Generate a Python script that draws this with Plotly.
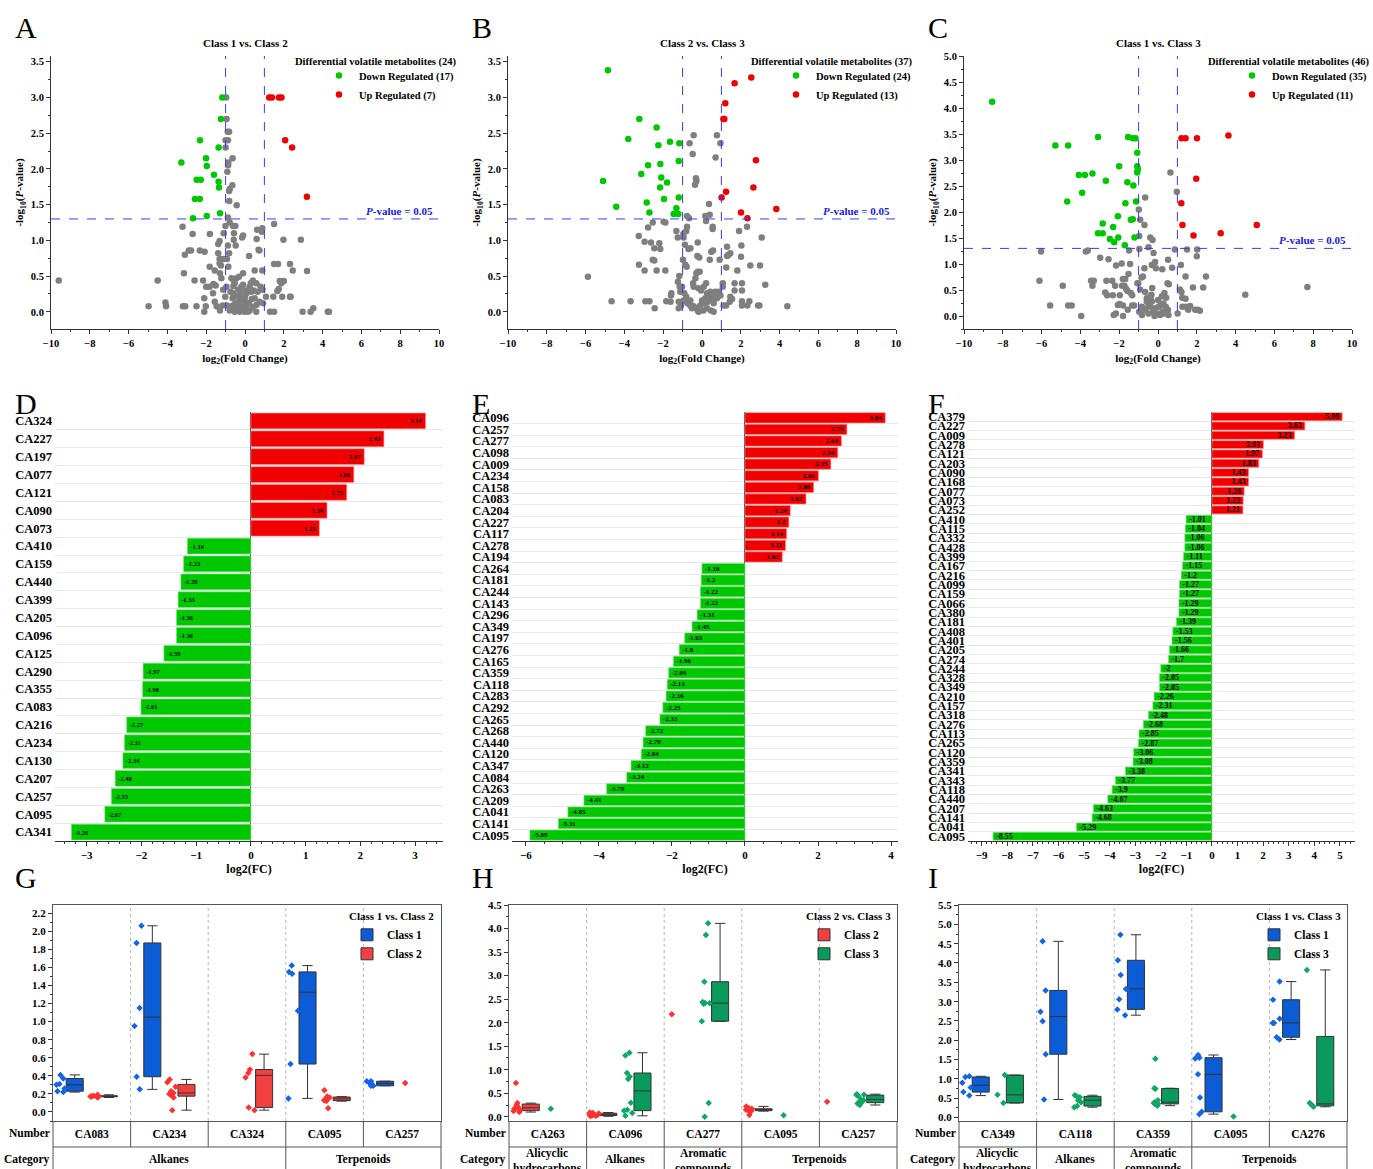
import plotly.graph_objects as go

W, H = 1373, 1169
FONT = "Liberation Serif, Times New Roman, serif"


def px(x):
    return x / W


def py(y):
    return 1 - y / H


# ------------------------------------------------------------------ volcano data
A_title = "Class 1 vs. Class 2"
A_counts = (24, 17, 7)
A_down = [(-1.17, 3.00), (-1.24, 2.70), (-2.32, 2.40), (-1.36, 2.30), (-3.28, 2.09), (-2.01, 2.15),
          (-1.97, 2.04), (-1.60, 1.92), (-2.49, 1.85), (-2.28, 1.85), (-1.36, 1.82), (-1.34, 1.74),
          (-2.58, 1.58), (-2.33, 1.58), (-1.29, 1.38), (-1.97, 1.34), (-2.68, 1.31)]
A_up = [(1.25, 3.00), (1.39, 3.00), (1.75, 3.00), (1.88, 3.00), (2.07, 2.40), (2.43, 2.30), (3.19, 1.61)]
A_ns = [(-0.97, 3.00), (-0.95, 2.70), (-0.89, 2.52), (-0.82, 2.52), (-1.00, 2.40), (-0.88, 2.40), (-1.00, 2.30),
        (-0.86, 2.09), (-0.64, 2.15), (-0.87, 2.05), (-0.91, 1.96), (-0.65, 1.77), (-0.79, 1.72), (-0.82, 1.69),
        (-0.81, 1.55), (-0.43, 1.49), (-0.88, 1.32), (-0.79, 1.25), (-0.62, 1.20), (-0.50, 1.20), (-1.01, 1.20),
        (-0.57, 1.10), (-1.10, 1.10), (-0.58, 1.01), (-0.48, 0.93), (-0.88, 0.93), (-0.82, 0.82), (-1.31, 0.99),
        (-1.38, 0.95), (-1.38, 0.82), (-1.31, 0.74), (-1.24, 0.74), (-1.13, 0.74), (-0.93, 0.74), (-0.86, 0.63),
        (-1.31, 0.68), (-1.24, 0.65), (-1.81, 1.09), (-2.08, 0.84), (-2.33, 0.86), (-2.90, 0.86), (-2.78, 0.86),
        (-3.10, 0.80), (-3.22, 1.19), (-2.70, 1.09), (-3.15, 0.54), (-1.82, 0.63), (-1.56, 0.58), (-1.29, 0.54),
        (-1.22, 0.47), (-0.70, 0.47), (-0.57, 0.44), (-0.45, 0.47), (-0.31, 0.49), (-0.10, 0.54), (0.21, 0.78),
        (-0.10, 1.07), (-0.15, 1.04), (0.60, 1.02), (0.62, 1.15), (0.89, 1.17), (0.86, 1.12), (1.50, 1.23),
        (0.70, 0.87), (0.74, 0.86), (1.98, 1.01), (2.88, 1.01), (1.50, 0.67), (1.70, 0.67), (2.32, 0.67),
        (2.46, 0.58), (3.20, 0.57), (1.79, 0.43), (1.87, 0.40), (1.74, 0.32), (1.67, 0.29), (1.46, 0.21),
        (1.92, 0.21), (2.32, 0.21), (1.08, 0.21), (0.89, 0.58), (0.50, 0.58), (0.41, 0.44), (0.58, 0.40),
        (0.24, 0.35), (-0.19, 0.35), (-0.53, 0.40), (-0.36, 0.31), (-0.96, 0.35), (-1.13, 0.31), (-1.02, 0.21),
        (-0.62, 0.26), (-0.64, 0.19), (-0.27, 0.21), (0.07, 0.26), (0.33, 0.28), (0.50, 0.19), (0.75, 0.14),
        (0.93, 0.12), (0.15, 0.12), (-0.02, 0.14), (-0.19, 0.07), (-0.41, 0.09), (-0.62, 0.09), (-0.70, 0.07),
        (-0.79, 0.02), (-0.53, 0.00), (-0.27, 0.00), (-0.02, 0.00), (0.24, 0.02), (0.41, 0.07), (0.58, 0.00),
        (-1.51, 0.37), (-1.63, 0.39), (-1.82, 0.35), (-2.16, 0.44), (-2.00, 0.35), (-2.60, 0.44), (-4.50, 0.44),
        (-9.60, 0.44), (-4.97, 0.08), (-4.10, 0.13), (-4.07, 0.08), (-3.20, 0.08), (-3.08, 0.08), (-2.50, 0.08),
        (-2.10, 0.00), (-2.02, 0.08), (-2.10, 0.19), (-1.65, 0.26), (-1.56, 0.14), (-1.46, 0.08), (-1.29, 0.02),
        (-0.93, 0.09), (-1.15, 0.09), (1.29, 0.00), (1.50, 0.00), (2.97, 0.00), (3.38, 0.00), (3.52, 0.05),
        (4.27, 0.00), (4.33, 0.00), (2.35, 0.21), (2.00, 0.43), (-0.30, 0.15), (-0.15, 0.20), (0.00, 0.05),
        (0.10, 0.10), (0.20, 0.12), (0.35, 0.18), (-0.45, 0.22), (0.05, 0.30), (-0.10, 0.38), (0.30, 0.40),
        (0.00, 0.20), (-0.50, 0.12), (0.15, 0.00), (-0.40, 0.03), (0.45, 0.30), (0.65, 0.28), (0.80, 0.35),
        (0.90, 0.31), (-0.25, 0.28), (0.60, 0.10), (-0.60, 0.36), (-0.75, 0.28)]

B_title = "Class 2 vs. Class 3"
B_counts = (37, 24, 13)
B_down = [(-4.85, 3.38), (-3.23, 2.70), (-2.34, 2.58), (-3.80, 2.42), (-2.25, 2.33), (-1.65, 2.38), (-1.17, 2.36),
          (-1.20, 2.11), (-2.78, 2.05), (-2.15, 2.07), (-3.13, 1.93), (-2.10, 1.88), (-1.80, 1.81), (-5.10, 1.83),
          (-2.16, 1.74), (-1.96, 1.58), (-1.20, 1.60), (-2.85, 1.53), (-4.42, 1.47), (-1.32, 1.45), (-2.71, 1.39),
          (-1.46, 1.37), (-1.22, 1.37)]
B_up = [(1.68, 3.20), (2.54, 3.28), (1.20, 2.92), (1.10, 2.70), (1.15, 2.70), (2.78, 2.12), (2.65, 1.74),
        (1.24, 1.68), (1.01, 1.60), (2.01, 1.39), (2.34, 1.31), (3.83, 1.44)]
B_ns = [(-0.43, 2.47), (0.77, 2.47), (-0.64, 2.36), (0.95, 2.36), (-0.48, 2.21), (0.70, 2.16), (-0.31, 1.87),
        (-0.29, 1.83), (-0.36, 1.78), (0.36, 1.51), (0.40, 1.36), (0.17, 1.34), (-0.77, 1.34), (-0.67, 1.31),
        (0.21, 1.27), (0.55, 1.19), (0.55, 1.16), (-0.77, 1.19), (-0.81, 1.13), (-1.32, 1.13), (-1.25, 1.04),
        (-0.96, 1.09), (-0.95, 1.04), (-1.98, 1.26), (-1.89, 1.25), (-2.54, 1.25), (-2.78, 1.18), (-3.26, 1.06),
        (-2.96, 0.98), (-2.63, 0.97), (-2.20, 0.96), (-2.15, 0.88), (-2.46, 0.89), (-2.54, 0.73), (-2.46, 0.72),
        (-3.25, 0.66), (-2.96, 0.58), (-2.34, 0.58), (-1.89, 0.58), (-0.88, 0.94), (-0.70, 0.88), (-0.60, 0.89),
        (-0.24, 0.78), (-0.14, 0.76), (-0.22, 0.97), (-0.98, 0.73), (-0.86, 0.66), (-0.79, 0.63), (0.48, 0.84),
        (0.57, 0.86), (0.40, 0.73), (0.91, 0.73), (1.29, 0.91), (1.37, 0.80), (1.46, 0.82), (1.29, 0.78),
        (2.01, 0.77), (2.03, 0.93), (1.91, 1.13), (2.32, 1.19), (3.08, 1.04), (2.49, 0.65), (2.99, 0.65),
        (1.25, 0.62), (1.82, 0.58), (3.26, 0.38), (4.40, 0.08), (2.89, 0.09), (2.96, 0.09), (2.44, 0.15),
        (2.34, 0.09), (2.06, 0.15), (2.06, 0.09), (2.06, 0.40), (1.68, 0.40), (1.68, 0.30), (2.06, 0.30),
        (1.46, 0.21), (1.55, 0.18), (1.43, 0.14), (1.24, 0.09), (1.07, 0.40), (1.07, 0.35), (1.12, 0.09),
        (-5.88, 0.49), (-4.66, 0.15), (-3.68, 0.15), (-2.92, 0.15), (-2.71, 0.15), (-2.44, 0.05), (-1.84, 0.15),
        (-1.62, 0.14), (-1.60, 0.23), (-1.58, 0.26), (-1.20, 0.14), (-1.20, 0.05), (-1.17, 0.50), (-1.24, 0.42),
        (-1.15, 0.35), (-1.03, 0.35), (-1.12, 0.28), (-0.91, 0.26), (-0.81, 0.21), (-0.77, 0.14), (-0.60, 0.09),
        (-0.52, 0.05), (-0.43, 0.08), (-0.29, 0.05), (-0.17, 0.00), (-0.09, 0.09), (-0.46, 0.40), (-0.29, 0.54),
        (-0.22, 0.56), (-0.12, 0.56), (-0.34, 0.47), (-0.43, 0.35), (-0.19, 0.33), (-0.05, 0.30), (0.09, 0.35),
        (0.21, 0.40), (0.26, 0.26), (0.34, 0.21), (0.43, 0.28), (0.17, 0.19), (0.00, 0.16), (0.09, 0.12),
        (0.29, 0.14), (0.52, 0.17), (0.60, 0.12), (0.69, 0.28), (0.86, 0.28), (0.46, 0.02), (0.60, 0.00),
        (0.26, 0.05), (0.07, 0.02), (-0.22, 0.02), (-0.60, 0.16), (-0.74, 0.12), (-0.95, 0.16), (-1.08, 0.09),
        (0.60, 0.23), (0.77, 0.19), (0.95, 0.23)]

C_title = "Class 1 vs. Class 3"
C_counts = (46, 35, 11)
C_down = [(-8.55, 4.12), (-5.29, 3.28), (-4.63, 3.28), (-3.09, 3.44), (-1.54, 3.44), (-1.30, 3.42), (-1.16, 3.42),
          (-1.07, 3.14), (-2.00, 2.88), (-1.07, 2.88), (-1.04, 2.82), (-1.07, 2.76), (-4.08, 2.71), (-3.77, 2.71),
          (-3.38, 2.74), (-2.69, 2.60), (-1.58, 2.57), (-1.27, 2.51), (-3.91, 2.37), (-4.68, 2.20), (-1.68, 2.17),
          (-1.13, 2.20), (-2.07, 1.92), (-1.40, 1.85), (-1.30, 1.86), (-2.85, 1.78), (-2.31, 1.71), (-3.09, 1.59),
          (-2.85, 1.59), (-2.05, 1.51), (-2.48, 1.48), (-2.26, 1.42), (-1.21, 1.51), (-1.71, 1.36)]
C_up = [(1.21, 3.42), (1.42, 3.42), (2.01, 3.42), (3.63, 3.47), (1.97, 2.64), (1.20, 2.17), (1.26, 1.75),
        (5.09, 1.75), (1.83, 1.55), (3.23, 1.59)]
C_ns = [(0.64, 2.76), (0.97, 2.39), (-0.66, 2.28), (-0.99, 2.05), (-0.92, 1.85), (-0.70, 1.75), (-0.97, 1.54),
        (-0.40, 1.51), (-0.28, 1.46), (-0.49, 1.32), (-0.96, 1.29), (-1.49, 1.26), (-0.23, 1.21), (0.87, 1.28),
        (1.50, 1.28), (2.02, 1.28), (2.00, 1.15), (0.52, 1.08), (1.18, 0.98), (-0.15, 1.04), (-0.32, 0.98),
        (-0.70, 0.92), (-0.11, 0.92), (0.22, 0.90), (0.73, 0.93), (-0.78, 0.76), (-0.85, 0.74), (-1.02, 0.63),
        (0.49, 0.63), (0.56, 0.61), (1.42, 0.76), (2.47, 0.76), (1.80, 0.55), (2.33, 0.55), (1.13, 0.51),
        (1.21, 0.46), (1.25, 0.35), (1.42, 0.33), (1.26, 0.18), (1.44, 0.18), (1.66, 0.19), (1.56, 0.12),
        (1.92, 0.12), (2.05, 0.12), (2.16, 0.10), (1.01, 0.05), (4.50, 0.41), (7.70, 0.56), (-6.03, 1.24),
        (-6.11, 0.68), (-4.91, 0.58), (-5.56, 0.20), (-4.63, 0.20), (-4.45, 0.20), (-3.96, 0.00), (-3.72, 1.24),
        (-3.62, 1.26), (-3.45, 0.68), (-3.31, 0.68), (-3.38, 0.58), (-2.98, 1.12), (-2.55, 1.09), (-2.16, 0.97),
        (-1.87, 1.01), (-1.44, 1.00), (-2.66, 0.68), (-2.36, 0.68), (-2.21, 0.58), (-2.72, 0.45), (-2.62, 0.40),
        (-2.33, 0.40), (-1.97, 0.40), (-2.07, 0.21), (-1.97, 0.23), (-1.80, 0.20), (-2.28, 0.02), (-2.17, 0.05),
        (-1.80, 0.00), (-1.56, 0.12), (-1.33, 0.20), (-1.23, 0.20), (-1.81, 0.71), (-1.69, 0.71), (-1.52, 0.81),
        (-1.85, 0.58), (-1.73, 0.58), (-1.64, 0.52), (-1.57, 0.48), (-1.40, 0.44), (-1.33, 0.40), (-1.06, 0.63),
        (-0.92, 0.51), (-0.66, 0.46), (-0.58, 0.34), (-0.37, 0.37), (-0.30, 0.54), (-0.34, 0.41), (0.00, 0.31),
        (0.20, 0.38), (0.33, 0.44), (0.42, 0.35), (0.13, 0.20), (0.28, 0.24), (0.40, 0.18), (0.51, 0.12),
        (0.23, 0.08), (-0.06, 0.05), (-0.18, 0.00), (-0.49, 0.21), (-0.40, 0.18), (-0.66, 0.12), (-0.83, 0.18),
        (-0.97, 0.08), (-0.83, 0.02), (-0.58, 0.28), (-0.32, 0.28), (-0.15, 0.15), (0.03, 0.18), (-0.23, 0.08),
        (0.11, 0.02), (0.34, 0.05), (0.54, 0.02), (-0.49, 0.05)]

# ------------------------------------------------------------------ bar data (log2 FC)
D_ids = ["CA324", "CA227", "CA197", "CA077", "CA121", "CA090", "CA073", "CA410", "CA159", "CA440", "CA399",
         "CA205", "CA096", "CA125", "CA290", "CA355", "CA083", "CA216", "CA234", "CA130", "CA207", "CA257",
         "CA095", "CA341"]
D_fc = [3.19, 2.43, 2.07, 1.88, 1.75, 1.39, 1.25, -1.16, -1.23, -1.28, -1.33, -1.36, -1.36, -1.59, -1.97,
        -1.98, -2.01, -2.27, -2.31, -2.34, -2.48, -2.55, -2.67, -3.28]

E_ids = ["CA096", "CA257", "CA277", "CA098", "CA009", "CA234", "CA158", "CA083", "CA204", "CA227", "CA117",
         "CA278", "CA194", "CA264", "CA181", "CA244", "CA143", "CA296", "CA349", "CA197", "CA276", "CA165",
         "CA359", "CA118", "CA283", "CA292", "CA265", "CA268", "CA440", "CA120", "CA347", "CA084", "CA263",
         "CA209", "CA041", "CA141", "CA095"]
E_fc = [3.84, 2.79, 2.64, 2.54, 2.35, 2.01, 1.88, 1.67, 1.24, 1.2, 1.14, 1.11, 1.02, -1.18, -1.2, -1.22, -1.22,
        -1.31, -1.45, -1.65, -1.8, -1.96, -2.09, -2.13, -2.16, -2.25, -2.33, -2.72, -2.79, -2.84, -3.12, -3.24,
        -3.79, -4.41, -4.85, -5.11, -5.89]

F_ids = ["CA379", "CA227", "CA009", "CA278", "CA121", "CA203", "CA090", "CA168", "CA077", "CA073", "CA252",
         "CA410", "CA115", "CA332", "CA428", "CA399", "CA167", "CA216", "CA099", "CA159", "CA066", "CA380",
         "CA181", "CA408", "CA401", "CA205", "CA274", "CA244", "CA328", "CA349", "CA210", "CA157", "CA318",
         "CA276", "CA113", "CA265", "CA120", "CA359", "CA341", "CA343", "CA118", "CA440", "CA207", "CA141",
         "CA041", "CA095"]
F_fc = [5.09, 3.63, 3.23, 2.01, 1.97, 1.83, 1.43, 1.43, 1.26, 1.22, 1.21, -1.01, -1.04, -1.06, -1.06, -1.11,
        -1.15, -1.2, -1.27, -1.27, -1.29, -1.29, -1.39, -1.53, -1.56, -1.66, -1.7, -2, -2.05, -2.05, -2.26,
        -2.31, -2.48, -2.68, -2.85, -2.87, -3.06, -3.08, -3.38, -3.77, -3.9, -4.07, -4.63, -4.68, -5.29, -8.55]

# ------------------------------------------------------------------ box data
G_title = "Class 1 vs. Class 2"
G_numbers = ["CA083", "CA234", "CA324", "CA095", "CA257"]
G_categories = [("Alkanes", 3), ("Terpenoids", 2)]
G_names = ("Class 1", "Class 2")
G_a = [[0.41, 0.37, 0.31, 0.30, 0.26, 0.23, 0.22],
       [2.06, 1.87, 1.15, 0.95, 0.39, 0.25],
       [],
       [1.62, 1.55, 1.53, 1.12, 0.53, 0.15],
       [0.34, 0.34, 0.32, 0.31, 0.29, 0.29]]
G_b = [[0.19, 0.18, 0.17, 0.17, 0.17, 0.16],
       [0.36, 0.33, 0.28, 0.23, 0.21, 0.20, 0.19, 0.16, 0.02],
       [0.64, 0.47, 0.43, 0.38, 0.05, 0.02],
       [0.24, 0.17, 0.16, 0.15, 0.14, 0.13, 0.12, 0.04],
       [0.32]]

H_title = "Class 2 vs. Class 3"
H_numbers = ["CA263", "CA096", "CA277", "CA095", "CA257"]
H_categories = [("Alicyclic<br>hydrocarbons", 1), ("Alkanes", 1), ("Aromatic<br>compounds", 1), ("Terpenoids", 2)]
H_names = ("Class 2", "Class 3")
H_a = [[0.72, 0.29, 0.25, 0.21, 0.19, 0.17, 0.14, 0.12, 0.10],
       [0.09, 0.08, 0.07, 0.06, 0.05, 0.04, 0.03, 0.02, 0.01],
       [2.18],
       [0.22, 0.18, 0.17, 0.16, 0.15, 0.15, 0.14, 0.13, 0.12, 0.04],
       [0.32]]
H_b = [[0.17],
       [1.36, 1.30, 0.93, 0.85, 0.80, 0.30, 0.15, 0.13, 0.08, 0.02],
       [4.11, 3.86, 2.87, 2.44, 2.42, 2.41, 2.40, 2.03, 0.29, 0.00],
       [0.03],
       [0.48, 0.47, 0.46, 0.45, 0.38, 0.35, 0.32, 0.30, 0.28, 0.25]]

I_title = "Class 1 vs. Class 3"
I_numbers = ["CA349", "CA118", "CA359", "CA095", "CA276"]
I_categories = [("Alicyclic<br>hydrocarbons", 1), ("Alkanes", 1), ("Aromatic<br>compounds", 1), ("Terpenoids", 2)]
I_names = ("Class 1", "Class 3")
I_a = [[1.07, 1.05, 0.90, 0.78, 0.66, 0.57],
       [4.56, 3.29, 2.74, 2.49, 1.64, 0.47],
       [4.73, 4.07, 3.69, 3.33, 3.06, 2.80, 2.65],
       [1.62, 1.55, 1.53, 1.12, 0.52, 0.15, 0.09],
       [3.52, 3.05, 2.56, 2.45, 2.45, 2.08, 2.02]]
I_b = [[1.10, 0.59, 0.38],
       [0.58, 0.55, 0.53, 0.45, 0.40, 0.30, 0.27],
       [1.52, 0.76, 0.75, 0.45, 0.40, 0.38, 0.36, 0.35, 0.31],
       [0.03],
       [3.82, 0.38, 0.33, 0.28]]

# ------------------------------------------------------------------ styles
C_GRAY, C_GREEN, C_RED = "#7f7f7f", "#00c800", "#f00000"
C_BLUE_BOX, C_RED_BOX, C_GREEN_BOX = "#0b5cd5", "#f04040", "#0a9a5c"
C_BLUE_PT, C_RED_PT, C_GREEN_PT = "#1464e6", "#ff3030", "#0fa863"
C_DASH = "#3a3aff"
AX = "#333333"

fig = go.Figure()
layout = {}
shapes, annots = [], []


def names(i):
    return ("x" if i == 1 else f"x{i}", "y" if i == 1 else f"y{i}",
            "xaxis" if i == 1 else f"xaxis{i}", "yaxis" if i == 1 else f"yaxis{i}")


def letter(t, x, y):
    annots.append(dict(text=t, x=px(x), y=py(y), xref="paper", yref="paper", xanchor="left",
                       yanchor="middle", showarrow=False,
                       font=dict(size=30, family=FONT, weight="normal", color="black")))


# ------------------------------------------------------------------ volcano panels
def volcano(i, title, counts, down, up, ns, yr, ydt, xdom, leg, leg_text_x, leg_right):
    xa, ya, xk, yk = names(i)
    fig.add_trace(go.Scatter(x=[p[0] for p in ns], y=[p[1] for p in ns], mode="markers",
                             marker=dict(color=C_GRAY, size=6.5), showlegend=False,
                             xaxis=xa, yaxis=ya, hoverinfo="skip"))
    fig.add_trace(go.Scatter(x=[p[0] for p in down], y=[p[1] for p in down], mode="markers",
                             marker=dict(color=C_GREEN, size=6.5), name=f"Down Regulated ({counts[1]})",
                             xaxis=xa, yaxis=ya, legend=leg))
    fig.add_trace(go.Scatter(x=[p[0] for p in up], y=[p[1] for p in up], mode="markers",
                             marker=dict(color=C_RED, size=6.5), name=f"Up Regulated ({counts[2]})",
                             xaxis=xa, yaxis=ya, legend=leg))
    layout[xk] = dict(domain=[px(xdom[0]), px(xdom[1])], anchor=ya, range=[-10, 10], dtick=2, tick0=0,
                      ticks="outside", ticklen=4, tickcolor=AX, showline=True, linecolor=AX, linewidth=1,
                      showgrid=False, zeroline=False, tickfont=dict(size=10.5), automargin=False,
                      minor=dict(ticks="outside", ticklen=2, dtick=1, tickcolor=AX),
                      title=dict(text="log<sub>2</sub>(Fold Change)", font=dict(size=11), standoff=6))
    layout[yk] = dict(domain=[py(329), py(56)], anchor=xa, range=yr, dtick=ydt, tick0=0, tickformat=".1f",
                      ticks="outside", ticklen=4, tickcolor=AX, showline=True, linecolor=AX, linewidth=1,
                      showgrid=False, zeroline=False, tickfont=dict(size=10.5), automargin=False,
                      minor=dict(ticks="outside", ticklen=2, dtick=ydt / 2, tickcolor=AX),
                      title=dict(text="-log<sub>10</sub>(<i>P</i>-value)", font=dict(size=11), standoff=4))
    dl = dict(color=C_DASH, width=1, dash="dash")
    for xv in (-1, 1):
        shapes.append(dict(type="line", xref=xa, yref=f"{ya} domain", x0=xv, x1=xv, y0=0, y1=1, line=dl))
    shapes.append(dict(type="line", xref=f"{xa} domain", yref=ya, x0=0, x1=1, y0=1.3, y1=1.3, line=dl))
    annots.append(dict(text="<i>P</i>-value = 0.05", xref=f"{xa} domain", yref=ya, x=0.99, y=1.3,
                       xanchor="right", yanchor="bottom", yshift=0, showarrow=False,
                       font=dict(size=11, color="#1a1adc")))
    annots.append(dict(text=title, xref="paper", yref="paper", x=px((xdom[0] + xdom[1]) / 2), y=py(43),
                       xanchor="center", yanchor="middle", showarrow=False, font=dict(size=11)))
    annots.append(dict(text=f"Differential volatile metabolites ({counts[0]})", xref="paper", yref="paper",
                       x=px(leg_right), y=py(62), xanchor="right", yanchor="middle", showarrow=False,
                       font=dict(size=10.5)))
    layout[leg] = dict(x=px(leg_text_x - 40), y=py(61), xanchor="left", yanchor="top",
                       bgcolor="rgba(0,0,0,0)", font=dict(size=10.5), tracegroupgap=0, itemwidth=30)


volcano(1, A_title, A_counts, A_down, A_up, A_ns, [-0.24, 3.58], 0.5, (51, 439), "legend", 359, 459)
volcano(2, B_title, B_counts, B_down, B_up, B_ns, [-0.24, 3.58], 0.5, (508, 896), "legend2", 816, 915)
volcano(3, C_title, C_counts, C_down, C_up, C_ns, [-0.25, 5.0], 0.5, (964, 1352), "legend3", 1272, 1372)


# ------------------------------------------------------------------ bar panels
def barpanel(i, ids, fc, xr, dt, mdt, xdom, labsize, txtsize, width):
    xa, ya, xk, yk = names(i)
    fig.add_trace(go.Bar(orientation="h", y=ids, x=fc, width=width,
                         marker=dict(color=[C_RED if v > 0 else C_GREEN for v in fc],
                                     line=dict(width=0.6, color=["#ff8a8a" if v > 0 else "#7fe07f" for v in fc])),
                         text=[f"{v:g}" for v in fc], textposition="inside", insidetextanchor="end",
                         textangle=0, constraintext="none",
                         textfont=dict(size=txtsize, color="black", family=FONT, weight="bold"),
                         showlegend=False, xaxis=xa, yaxis=ya, hoverinfo="skip"))
    layout[xk] = dict(domain=[px(xdom[0]), px(xdom[1])], anchor=ya, range=xr, dtick=dt, tick0=0,
                      ticks="outside", ticklen=4, tickcolor=AX, showline=True, linecolor=AX, linewidth=1,
                      showgrid=False, zeroline=True, zerolinecolor="#555555", zerolinewidth=1,
                      tickfont=dict(size=11), automargin=False,
                      minor=dict(ticks="outside", ticklen=2, dtick=mdt, tickcolor=AX),
                      title=dict(text="log2(FC)", font=dict(size=12), standoff=4))
    layout[yk] = dict(domain=[py(841), py(412)], anchor=xa, type="category", categoryorder="array",
                      categoryarray=ids, range=[len(ids) - 0.5, -0.5], tickson="boundaries",
                      tickmode="array", tickvals=ids, ticktext=ids,
                      showgrid=True, gridcolor="#e9e9e9", gridwidth=1, ticks="", showline=False,
                      zeroline=False, tickfont=dict(size=labsize), ticklabelstandoff=2, automargin=False)


barpanel(4, D_ids, D_fc, [-3.58, 3.51], 1, 0.2, (55, 443), 12.5, 6.5, 0.88)
barpanel(5, E_ids, E_fc, [-6.38, 4.19], 2, 0.5, (512, 898), 12.5, 7, 0.88)
barpanel(6, F_ids, F_fc, [-9.53, 5.59], 1, 0.2, (968, 1355), 12.5, 8, 0.85)


# ------------------------------------------------------------------ box panels
def boxpanel(i, title, numbers, cats, nm, a_vals, b_vals, cols, yr, dt, mdt, xdom, leg, leg_right):
    xa, ya, xk, yk = names(i)
    for gi, (name, vals, (fillc, ptc)) in enumerate(zip(nm, (a_vals, b_vals), cols)):
        xs = [n for n, v in zip(numbers, vals) for _ in v]
        ys = [y for v in vals for y in v]
        fig.add_trace(go.Box(x=xs, y=ys, name=name, boxpoints="all", jitter=0.6, pointpos=-1.65,
                             quartilemethod="exclusive", fillcolor=fillc, whiskerwidth=0.6,
                             line=dict(color=AX, width=1),
                             marker=dict(color=ptc, size=5, symbol="diamond"),
                             alignmentgroup=f"panel{i}", offsetgroup=f"g{gi}",
                             xaxis=xa, yaxis=ya, legend=leg, hoverinfo="skip"))
    n = len(numbers)
    layout[xk] = dict(domain=[px(xdom[0]), px(xdom[1])], anchor=ya, type="category", categoryorder="array",
                      categoryarray=numbers, range=[-0.5, n - 0.5], ticks="", showline=True, mirror=True,
                      linecolor="#555555", linewidth=1, showgrid=False, zeroline=False, automargin=False,
                      tickfont=dict(size=11.5), ticklabelstandoff=2)
    layout[yk] = dict(domain=[py(1121), py(905)], anchor=xa, range=yr, dtick=dt, tick0=0, tickformat=".1f",
                      ticks="outside", ticklen=4, tickcolor=AX, showline=True, mirror=True,
                      linecolor="#555555", linewidth=1, showgrid=False, zeroline=False, automargin=False,
                      tickfont=dict(size=11),
                      minor=dict(ticks="outside", ticklen=2, dtick=mdt, tickcolor=AX))
    layout[leg] = dict(x=px(leg_right), y=py(906), xanchor="right", yanchor="top", bgcolor="rgba(0,0,0,0)",
                       font=dict(size=11.5), tracegroupgap=0,
                       title=dict(text=title, font=dict(size=11), side="top"))
    tl = dict(color="#555555", width=1)
    for k in range(1, n):
        shapes.append(dict(type="line", xref=xa, yref=f"{ya} domain", x0=k - 0.5, x1=k - 0.5, y0=0, y1=1,
                           line=dict(color="#b5b5b5", width=1, dash="dot")))
        shapes.append(dict(type="line", xref=xa, yref="paper", x0=k - 0.5, x1=k - 0.5,
                           y0=py(1121), y1=py(1147), line=tl))
    shapes.append(dict(type="line", xref=f"{xa} domain", yref="paper", x0=0, x1=1, y0=py(1147), y1=py(1147),
                       line=tl))
    for xv in (0, 1):
        shapes.append(dict(type="line", xref=f"{xa} domain", yref="paper", x0=xv, x1=xv, y0=py(1121), y1=0,
                           line=tl))
    start = 0
    for j, (label, span) in enumerate(cats):
        end = start + span - 1
        if j > 0:
            shapes.append(dict(type="line", xref=xa, yref="paper", x0=start - 0.5, x1=start - 0.5,
                               y0=py(1147), y1=0, line=tl))
        multi = "<br>" in label
        annots.append(dict(text=label, xref=xa, yref="paper", x=(start + end) / 2,
                           y=py(1145) if multi else py(1151), xanchor="center", yanchor="top",
                           showarrow=False, font=dict(size=11.5)))
        start = end + 1
    annots.append(dict(text="Number", xref="paper", yref="paper", x=px(xdom[0] - 1), y=py(1133),
                       xanchor="right", yanchor="middle", showarrow=False, font=dict(size=11.5)))
    annots.append(dict(text="Category", xref="paper", yref="paper", x=px(xdom[0] - 1), y=py(1159),
                       xanchor="right", yanchor="middle", showarrow=False, font=dict(size=11.5)))


boxpanel(7, G_title, G_numbers, G_categories, G_names, G_a, G_b,
         [(C_BLUE_BOX, C_BLUE_PT), (C_RED_BOX, C_RED_PT)], [-0.1, 2.29], 0.2, 0.1, (53, 441), "legend4", 437)
boxpanel(8, H_title, H_numbers, H_categories, H_names, H_a, H_b,
         [(C_RED_BOX, C_RED_PT), (C_GREEN_BOX, C_GREEN_PT)], [-0.09, 4.5], 0.5, 0.25, (509, 897), "legend5", 894)
boxpanel(9, I_title, I_numbers, I_categories, I_names, I_a, I_b,
         [(C_BLUE_BOX, C_BLUE_PT), (C_GREEN_BOX, C_GREEN_PT)], [-0.087, 5.5], 0.5, 0.25, (959, 1347), "legend6", 1344)

for t, x, y in [("A", 13, 28), ("B", 470, 28), ("C", 926, 28), ("D", 13, 403), ("E", 470, 403),
                ("F", 926, 403), ("G", 13, 877), ("H", 470, 877), ("I", 926, 877)]:
    letter(t, x, y)

layout.update(dict(width=W, height=H, margin=dict(l=0, r=0, t=0, b=0, pad=0, autoexpand=False),
                   plot_bgcolor="white", paper_bgcolor="white",
                   font=dict(family=FONT, size=11, color="black", weight="bold"),
                   boxmode="group", boxgap=0.12, boxgroupgap=0.5, shapes=shapes, annotations=annots))
fig.update_layout(**layout)
fig.write_html("out.html", config={"responsive": False, "displayModeBar": False},
               post_script="document.body.style.margin='0px';document.body.style.padding='0px';")
